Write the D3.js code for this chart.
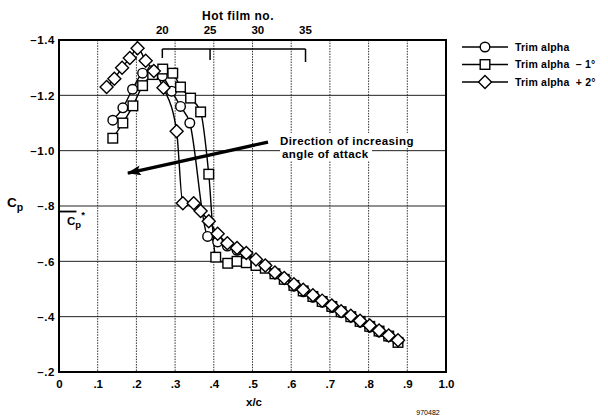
<!DOCTYPE html>
<html>
<head>
<meta charset="utf-8">
<script src="https://cdn.jsdelivr.net/npm/d3@7"></script>
<style>
  body { margin: 0; background: white; }
  svg { display: block; font-family: "Liberation Sans", Arial, sans-serif; font-weight: bold; }
  text { white-space: pre; }
</style>
</head>
<body>
<svg width="608" height="419"></svg>
<script>
// Cp vs x/c, three trim angles
const trimX  = [0.139, 0.165, 0.19, 0.216, 0.242, 0.267, 0.291, 0.314, 0.338, 0.384, 0.41, 0.435, 0.46, 0.484, 0.509, 0.533, 0.558, 0.582, 0.607, 0.631, 0.656, 0.68, 0.705, 0.729, 0.754, 0.778, 0.803, 0.827, 0.852, 0.876]
const trimCp = [-1.11, -1.155, -1.222, -1.28, -1.29, -1.27, -1.215, -1.16, -1.10, -0.69, -0.67, -0.655, -0.64, -0.625, -0.60, -0.578, -0.555, -0.535, -0.51, -0.49, -0.47, -0.452, -0.433, -0.415, -0.398, -0.38, -0.362, -0.345, -0.328, -0.31]

const minusX  = [0.139, 0.165, 0.191, 0.216, 0.242, 0.268, 0.294, 0.314, 0.34, 0.366, 0.387, 0.405, 0.436, 0.46, 0.484, 0.509, 0.533, 0.558, 0.582, 0.607, 0.631, 0.656, 0.68, 0.705, 0.729, 0.754, 0.778, 0.803, 0.827, 0.852, 0.876]
const minusCp = [-1.045, -1.10, -1.162, -1.235, -1.275, -1.295, -1.28, -1.23, -1.19, -1.14, -0.915, -0.615, -0.593, -0.60, -0.595, -0.585, -0.575, -0.555, -0.535, -0.513, -0.493, -0.473, -0.455, -0.437, -0.418, -0.40, -0.383, -0.365, -0.348, -0.33, -0.307]

const plusX  = [0.123, 0.143, 0.163, 0.183, 0.203, 0.224, 0.245, 0.27, 0.304, 0.32, 0.348, 0.366, 0.387, 0.41, 0.435, 0.46, 0.484, 0.509, 0.533, 0.558, 0.582, 0.607, 0.631, 0.656, 0.68, 0.705, 0.729, 0.754, 0.778, 0.803, 0.827, 0.852, 0.876]
const plusCp = [-1.23, -1.26, -1.30, -1.335, -1.37, -1.325, -1.288, -1.227, -1.07, -0.81, -0.81, -0.782, -0.745, -0.70, -0.665, -0.648, -0.63, -0.607, -0.585, -0.56, -0.54, -0.517, -0.497, -0.477, -0.458, -0.44, -0.42, -0.403, -0.385, -0.368, -0.35, -0.332, -0.315]

const xTicks = [0, 0.1, 0.2, 0.3, 0.4, 0.5, 0.6, 0.7, 0.8, 0.9, 1.0]
const yTicks = [-1.4, -1.2, -1.0, -0.8, -0.6, -0.4, -0.2]
const filmTicks = [20, 25, 30, 35]
const filmBracket = [20, 25, 35]
const cpStar = -0.78
const legendNames = ["Trim alpha", "Trim alpha  \u2013 1\u00b0", "Trim alpha  + 2\u00b0"]

const svg = d3.select("svg")
svg.append("rect").attr("width", 608).attr("height", 419).attr("fill", "white")

const x = d3.scaleLinear().domain([0, 1]).range([59, 446])
const y = d3.scaleLinear().domain([-1.4, -0.2]).range([40, 372])
// hot film number -> x/c position along the chord
const film = d3.scaleLinear().domain([20, 35]).range([x(0.267), x(0.637)])

// grid
svg.append("g")
    .selectAll("line")
    .data(xTicks.slice(1, -1))
    .join("line")
    .attr("x1", d => x(d)).attr("x2", d => x(d))
    .attr("y1", y(-1.4)).attr("y2", y(-0.2))
    .attr("stroke", "#333").attr("stroke-width", 1)
    .attr("stroke-dasharray", "1.5,1.2")

svg.append("g")
    .selectAll("line")
    .data(yTicks.slice(1, -1))
    .join("line")
    .attr("x1", x(0)).attr("x2", x(1))
    .attr("y1", d => y(d)).attr("y2", d => y(d))
    .attr("stroke", "#222").attr("stroke-width", 1)

// axes (labels only, the frame is drawn later)
const fmtX = d => d === 0 ? "0" : d === 1 ? "1.0" : d3.format(".1f")(d).replace(/^0/, "")
const fmtY = d => {
    let s = d3.format(".1f")(-d)
    if (Math.abs(d) < 1) s = s.replace(/^0/, "")
    return "\u2013" + s
}

svg.append("g")
    .attr("transform", `translate(0,${y(-0.2)})`)
    .call(d3.axisBottom(x).tickValues(xTicks).tickFormat(fmtX).tickSize(0).tickPadding(8))
    .call(g => g.select(".domain").remove())
    .selectAll("text").attr("font-size", 11.5).attr("font-family", null).attr("fill", "black")

svg.append("g")
    .attr("transform", `translate(${x(0)},0)`)
    .call(d3.axisLeft(y).tickValues(yTicks).tickFormat(fmtY).tickSize(0).tickPadding(4))
    .call(g => g.select(".domain").remove())
    .selectAll("text").attr("font-size", 11.5).attr("letter-spacing", 0.6)
    .attr("font-family", null).attr("fill", "black")

// top: hot film numbers
svg.append("text").attr("x", 238).attr("y", 20).attr("text-anchor", "middle")
    .attr("font-size", 12).attr("letter-spacing", 0.5).text("Hot film no.")
svg.append("g")
    .selectAll("text")
    .data(filmTicks)
    .join("text")
    .attr("x", d => film(d)).attr("y", 34)
    .attr("text-anchor", "middle").attr("font-size", 11.5)
    .text(d => d)

svg.append("line")
    .attr("x1", film(20)).attr("x2", film(35))
    .attr("y1", 49).attr("y2", 49)
    .attr("stroke", "black").attr("stroke-width", 1.5)
svg.append("g")
    .selectAll("line")
    .data(filmBracket)
    .join("line")
    .attr("x1", d => film(d)).attr("x2", d => film(d))
    .attr("y1", 49).attr("y2", (d, i) => 58 + i * 2)
    .attr("stroke", "black").attr("stroke-width", 1.5)

// axis titles
const yl = svg.append("text").attr("x", 7).attr("y", 207).attr("font-size", 13.5)
yl.append("tspan").text("C")
yl.append("tspan").attr("font-size", 10.5).attr("dy", 4).text("p")

svg.append("text").attr("x", 254).attr("y", 406).attr("text-anchor", "middle")
    .attr("font-size", 11.5).text("x/c")
svg.append("text").attr("x", 428).attr("y", 415).attr("text-anchor", "middle")
    .attr("font-size", 7).attr("font-weight", "normal").text("970482")

// Cp* marker
svg.append("line")
    .attr("x1", x(0)).attr("x2", x(0.045))
    .attr("y1", y(cpStar)).attr("y2", y(cpStar))
    .attr("stroke", "black").attr("stroke-width", 1.8)
const cs = svg.append("text").attr("x", 67).attr("y", 225).attr("font-size", 11.5)
cs.append("tspan").text("C")
cs.append("tspan").attr("font-size", 9.5).attr("dy", 3).text("p")
cs.append("tspan").attr("font-size", 9.5).attr("dy", -10).text("*")

// annotation, knocked out of the grid line by line
svg.append("rect").attr("x", 277).attr("y", 133).attr("width", 140).attr("height", 15).attr("fill", "white")
svg.append("rect").attr("x", 280).attr("y", 147).attr("width", 92).attr("height", 14).attr("fill", "white")
svg.append("text").attr("x", 280).attr("y", 145).attr("font-size", 11.5)
    .attr("letter-spacing", 0.4).text("Direction of increasing")
svg.append("text").attr("x", 282).attr("y", 158).attr("font-size", 11.5)
    .attr("letter-spacing", 0.4).text("angle of attack")

svg.append("defs").append("marker")
    .attr("id", "head")
    .attr("markerUnits", "userSpaceOnUse")
    .attr("viewBox", "0 0 14 10")
    .attr("refX", 13).attr("refY", 5)
    .attr("markerWidth", 14).attr("markerHeight", 10)
    .attr("orient", "auto")
    .append("path").attr("d", "M0,0 L14,5 L0,10 L3,5 Z").attr("fill", "black")

svg.append("line")
    .attr("x1", x(0.54)).attr("y1", y(-1.031))
    .attr("x2", x(0.178)).attr("y2", y(-0.919))
    .attr("stroke", "black").attr("stroke-width", 3.2)
    .attr("marker-end", "url(#head)")

// data
const series = [
    { xs: trimX, cps: trimCp, shape: "circle" },
    { xs: minusX, cps: minusCp, shape: "square" },
    { xs: plusX, cps: plusCp, shape: "diamond" }
]

const line = d3.line()
    .x(d => x(d[0])).y(d => y(d[1]))
    .curve(d3.curveMonotoneX)

function drawMarker(sel, shape) {
    if (shape === "circle") {
        sel.append("circle").attr("r", 4.8)
    } else if (shape === "square") {
        sel.append("rect").attr("x", -4.8).attr("y", -4.8).attr("width", 9.6).attr("height", 9.6)
    } else {
        sel.append("path").attr("d", "M0,-6.5 L6.5,0 L0,6.5 L-6.5,0 Z")
    }
    sel.selectAll("*").attr("fill", "white").attr("stroke", "black").attr("stroke-width", 1.4)
}

series.forEach(s => {
    const pts = s.xs.map((v, i) => [v, s.cps[i]])
    svg.append("path")
        .attr("d", line(pts))
        .attr("fill", "none").attr("stroke", "black").attr("stroke-width", 1.4)
})

series.forEach(s => {
    const pts = s.xs.map((v, i) => [v, s.cps[i]])
    svg.append("g")
        .selectAll("g")
        .data(pts)
        .join("g")
        .attr("transform", d => `translate(${x(d[0])},${y(d[1])})`)
        .each(function() { drawMarker(d3.select(this), s.shape) })
})

// frame
svg.append("rect")
    .attr("x", x(0)).attr("y", y(-1.4))
    .attr("width", x(1) - x(0)).attr("height", y(-0.2) - y(-1.4))
    .attr("fill", "none").attr("stroke", "black").attr("stroke-width", 2)

// legend
const legend = svg.append("g")
    .selectAll("g")
    .data(series)
    .join("g")
    .attr("transform", (d, i) => `translate(485,${47 + i * 17.5})`)

legend.append("line")
    .attr("x1", -23).attr("x2", 23)
    .attr("stroke", "black").attr("stroke-width", 1.3)
legend.each(function(d) { drawMarker(d3.select(this), d.shape) })
legend.append("text")
    .attr("x", 30).attr("dy", "0.35em")
    .attr("font-size", 10.5).attr("letter-spacing", 0.2)
    .text((d, i) => legendNames[i])
</script>
</body>
</html>
